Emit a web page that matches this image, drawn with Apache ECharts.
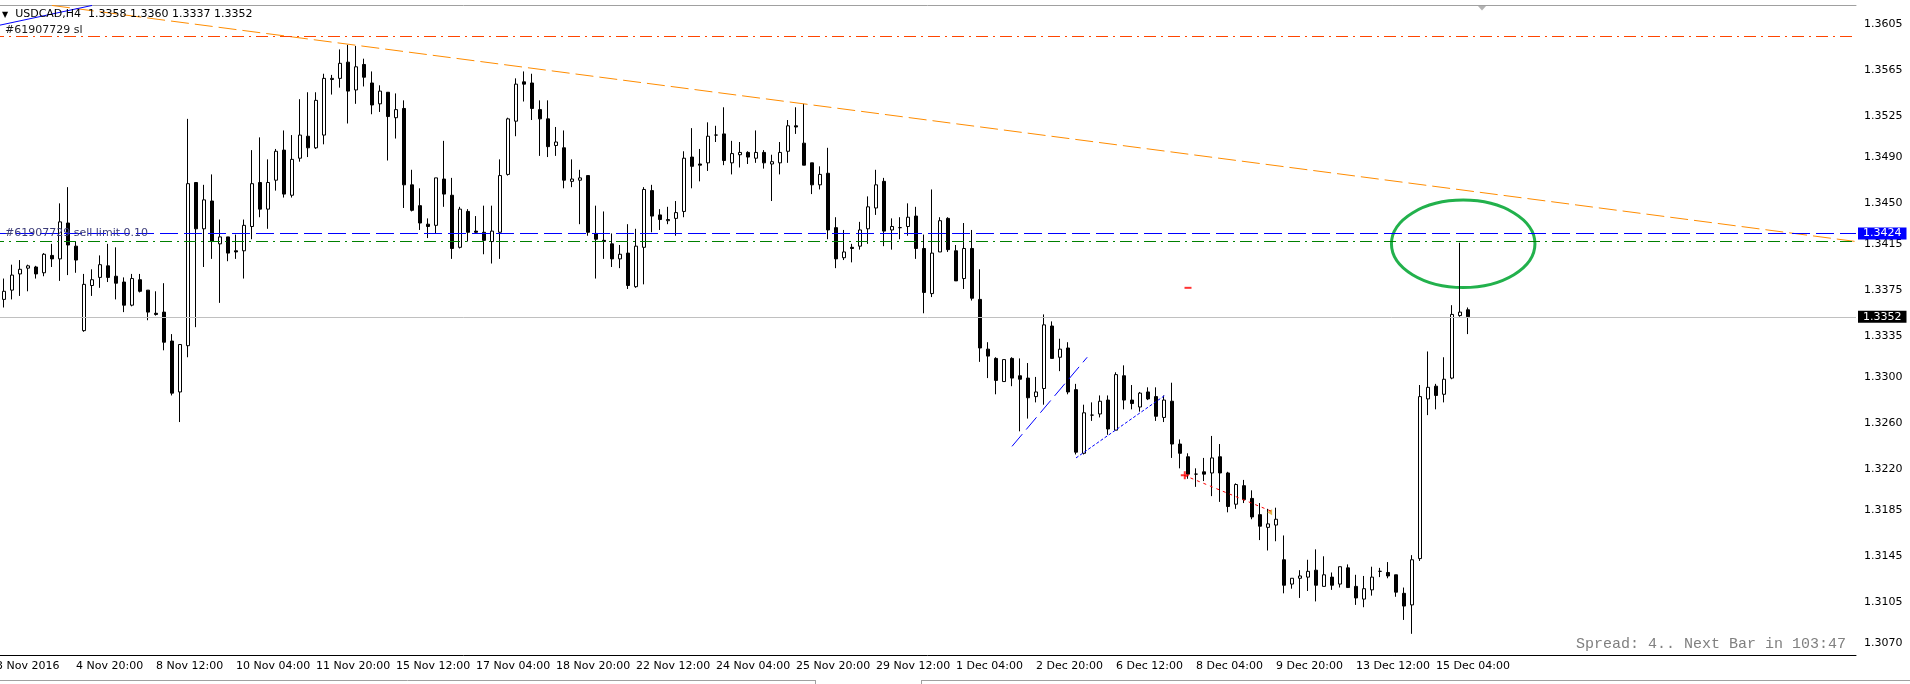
<!DOCTYPE html>
<html>
<head>
<meta charset="utf-8">
<title>USDCAD,H4</title>
<script src="https://cdn.jsdelivr.net/npm/echarts@6/dist/echarts.min.js"></script>
<style>
  html, body { margin: 0; padding: 0; background: #fff; }
  #chart { width: 1910px; height: 684px; }
</style>
</head>
<body>
<div id="chart"></div>
<script>
// USDCAD H4 in MT4 look: white/black candles, order lines, trend lines and a hand-drawn ellipse.
const FONT = 'DejaVu Sans';
const SYMBOL = 'USDCAD,H4';

// x axis: one slot per bar, slot 0 is the hidden bar cut by the left edge
const SLOTS = 233;
const LABEL_STEP = 10;
const X_LABELS = ['3 Nov 2016', '4 Nov 20:00', '8 Nov 12:00', '10 Nov 04:00', '11 Nov 20:00',
  '15 Nov 12:00', '17 Nov 04:00', '18 Nov 20:00', '22 Nov 12:00', '24 Nov 04:00', '25 Nov 20:00',
  '29 Nov 12:00', '1 Dec 04:00', '2 Dec 20:00', '6 Dec 12:00', '8 Dec 04:00', '9 Dec 20:00',
  '13 Dec 12:00', '15 Dec 04:00'];

// price scale ticks as MT4 prints them
const Y_TICKS = [1.3605, 1.3565, 1.3525, 1.3490, 1.3450, 1.3415, 1.3375, 1.3335, 1.3300,
  1.3260, 1.3220, 1.3185, 1.3145, 1.3105, 1.3070];
const Y_MIN = 1.30597;
const Y_MAX = 1.36214;

const OPEN = [
  1.3367,1.3375,1.3389,1.3394,1.3395,1.3390,1.3405,1.3402,1.3433,1.3413,
  1.3340,1.3379,1.3386,1.3396,1.3387,1.3382,1.3362,1.3384,1.3375,1.3355,
  1.3356,1.3331,1.3287,1.3327,1.3468,1.3428,1.3452,1.3415,1.3421,1.3409,
  1.3409,1.3430,1.3468,1.3445,1.3470,1.3496,1.3457,1.3489,1.3508,1.3498,
  1.3509,1.3557,1.3558,1.3572,1.3548,1.3570,1.3554,1.3536,1.3546,1.3524,
  1.3532,1.3466,1.3448,1.3432,1.3431,1.3471,1.3457,1.3412,1.3443,1.3426,
  1.3425,1.3417,1.3425,1.3475,1.3521,1.3555,1.3554,1.3531,1.3523,1.3500,
  1.3498,1.3469,1.3470,1.3474,1.3424,1.3418,1.3415,1.3402,1.3407,1.3378,
  1.3412,1.3461,1.3440,1.3435,1.3437,1.3443,1.3490,1.3484,1.3485,1.3509,
  1.3510,1.3485,1.3492,1.3494,1.3489,1.3494,1.3484,1.3485,1.3495,1.3517,
  1.3502,1.3485,1.3466,1.3476,1.3429,1.3403,1.3412,1.3413,1.3428,1.3446,
  1.3469,1.3427,1.3429,1.3430,1.3439,1.3411,1.3372,1.3408,1.3437,1.3409,
  1.3385,1.3411,1.3367,1.3324,1.3316,1.3296,1.3316,1.3301,1.3299,1.3283,
  1.3290,1.3344,1.3317,1.3325,1.3289,1.3234,1.3267,1.3268,1.3280,1.3254,
  1.3301,1.3280,1.3274,1.3287,1.3283,1.3265,1.3279,1.3242,1.3231,1.3216,
  1.3218,1.3217,1.3231,1.3217,1.3190,1.3206,1.3195,1.3181,1.3170,1.3172,
  1.3142,1.3121,1.3126,1.3127,1.3133,1.3119,1.3127,1.3121,1.3135,1.3119,
  1.3108,1.3116,1.3132,1.3131,1.3129,1.3113,1.3103,1.3143,1.3281,1.3292,
  1.3285,1.3299,1.3353,1.3358
];
const HIGH = [
  1.3385,1.3397,1.3401,1.3397,1.3396,1.3407,1.3415,1.3450,1.3464,1.3417,
  1.3389,1.3393,1.3405,1.3415,1.3412,1.3386,1.3389,1.3389,1.3375,1.3374,
  1.3381,1.3337,1.3328,1.3523,1.3468,1.3466,1.3475,1.3436,1.3421,1.3423,
  1.3436,1.3496,1.3507,1.3488,1.3497,1.3513,1.3509,1.3540,1.3546,1.3546,
  1.3562,1.3561,1.3583,1.3587,1.3586,1.3575,1.3564,1.3552,1.3546,1.3545,
  1.3539,1.3479,1.3463,1.3437,1.3472,1.3504,1.3472,1.3447,1.3445,1.3439,
  1.3448,1.3448,1.3488,1.3524,1.3558,1.3564,1.3562,1.3539,1.3539,1.3516,
  1.3513,1.3488,1.3479,1.3474,1.3448,1.3443,1.3424,1.3414,1.3432,1.3428,
  1.3464,1.3466,1.3445,1.3447,1.3452,1.3495,1.3515,1.3497,1.3520,1.3517,
  1.3533,1.3504,1.3503,1.3495,1.3513,1.3496,1.3492,1.3503,1.3522,1.3533,
  1.3536,1.3485,1.3482,1.3498,1.3438,1.3427,1.3415,1.3434,1.3456,1.3479,
  1.3472,1.3437,1.3438,1.3450,1.3447,1.3423,1.3462,1.3438,1.3438,1.3414,
  1.3433,1.3427,1.3393,1.3330,1.3317,1.3315,1.3317,1.3316,1.3312,1.3300,
  1.3354,1.3348,1.3333,1.3330,1.3294,1.3276,1.3278,1.3284,1.3284,1.3304,
  1.3310,1.3293,1.3287,1.3291,1.3291,1.3284,1.3295,1.3246,1.3234,1.3221,
  1.3230,1.3249,1.3242,1.3218,1.3208,1.3211,1.3202,1.3191,1.3186,1.3187,
  1.3163,1.3126,1.3133,1.3142,1.3151,1.3145,1.3131,1.3136,1.3138,1.3129,
  1.3128,1.3136,1.3135,1.3140,1.3129,1.3118,1.3146,1.3293,1.3322,1.3294,
  1.3317,1.3362,1.3416,1.3360
];
const LOW = [
  1.3360,1.3367,1.3370,1.3374,1.3385,1.3387,1.3395,1.3383,1.3388,1.3390,
  1.3339,1.3370,1.3377,1.3382,1.3367,1.3356,1.3361,1.3373,1.3349,1.3353,
  1.3323,1.3284,1.3261,1.3317,1.3343,1.3395,1.3402,1.3364,1.3400,1.3402,
  1.3385,1.3419,1.3438,1.3428,1.3461,1.3455,1.3455,1.3486,1.3490,1.3497,
  1.3501,1.3544,1.3550,1.3519,1.3536,1.3551,1.3527,1.3529,1.3487,1.3506,
  1.3446,1.3443,1.3427,1.3420,1.3424,1.3447,1.3402,1.3411,1.3417,1.3424,
  1.3406,1.3398,1.3402,1.3474,1.3508,1.3538,1.3522,1.3491,1.3490,1.3491,
  1.3463,1.3464,1.3432,1.3422,1.3385,1.3402,1.3395,1.3394,1.3376,1.3377,
  1.3380,1.3425,1.3427,1.3432,1.3422,1.3438,1.3463,1.3469,1.3478,1.3503,
  1.3483,1.3475,1.3481,1.3484,1.3485,1.3480,1.3452,1.3475,1.3485,1.3510,
  1.3483,1.3458,1.3462,1.3419,1.3394,1.3401,1.3399,1.3410,1.3415,1.3440,
  1.3413,1.3410,1.3419,1.3422,1.3402,1.3355,1.3369,1.3408,1.3408,1.3383,
  1.3376,1.3366,1.3313,1.3299,1.3285,1.3296,1.3292,1.3253,1.3264,1.3278,
  1.3276,1.3316,1.3305,1.3285,1.3233,1.3233,1.3262,1.3265,1.3250,1.3254,
  1.3272,1.3272,1.3270,1.3280,1.3262,1.3261,1.3230,1.3221,1.3212,1.3205,
  1.3210,1.3197,1.3192,1.3183,1.3186,1.3191,1.3177,1.3159,1.3150,1.3158,
  1.3113,1.3117,1.3109,1.3115,1.3106,1.3119,1.3116,1.3118,1.3118,1.3103,
  1.3101,1.3111,1.3127,1.3126,1.3110,1.3090,1.3078,1.3141,1.3267,1.3272,
  1.3278,1.3298,1.3352,1.3337
];
const CLOSE = [
  1.3374,1.3388,1.3393,1.3396,1.3389,1.3406,1.3402,1.3434,1.3414,1.3401,
  1.3380,1.3384,1.3397,1.3386,1.3381,1.3362,1.3385,1.3374,1.3356,1.3354,
  1.3330,1.3286,1.3328,1.3467,1.3428,1.3453,1.3417,1.3421,1.3407,1.3408,
  1.3431,1.3467,1.3445,1.3468,1.3495,1.3458,1.3488,1.3509,1.3498,1.3539,
  1.3558,1.3558,1.3571,1.3547,1.3568,1.3559,1.3535,1.3547,1.3525,1.3531,
  1.3466,1.3444,1.3433,1.3430,1.3472,1.3458,1.3411,1.3445,1.3425,1.3425,
  1.3418,1.3426,1.3474,1.3523,1.3553,1.3553,1.3532,1.3523,1.3499,1.3503,
  1.3470,1.3471,1.3472,1.3425,1.3419,1.3417,1.3402,1.3406,1.3379,1.3413,
  1.3462,1.3439,1.3436,1.3436,1.3442,1.3489,1.3482,1.3483,1.3508,1.3509,
  1.3487,1.3493,1.3494,1.3490,1.3494,1.3485,1.3486,1.3494,1.3517,1.3516,
  1.3483,1.3466,1.3475,1.3427,1.3402,1.3408,1.3411,1.3427,1.3447,1.3466,
  1.3426,1.3430,1.3429,1.3438,1.3411,1.3373,1.3407,1.3435,1.3410,1.3383,
  1.3411,1.3368,1.3325,1.3318,1.3297,1.3315,1.3299,1.3298,1.3282,1.3287,
  1.3345,1.3316,1.3324,1.3287,1.3235,1.3269,1.3267,1.3279,1.3255,1.3302,
  1.3280,1.3277,1.3286,1.3281,1.3266,1.3280,1.3242,1.3234,1.3216,1.3216,
  1.3216,1.3230,1.3217,1.3188,1.3207,1.3194,1.3179,1.3171,1.3173,1.3177,
  1.3120,1.3126,1.3128,1.3132,1.3120,1.3129,1.3120,1.3136,1.3118,1.3109,
  1.3117,1.3127,1.3132,1.3128,1.3114,1.3102,1.3142,1.3283,1.3291,1.3284,
  1.3298,1.3354,1.3356,1.3352
];
const FIRST_SLOT = 1; // bar k sits in slot k + 1

// order lines
const ORDER_TICKET = '#61907729';
const ORDER_PRICE = 1.3424;
const SL_PRICE = 1.3594;
const LEVEL_PRICE = 1.34175;

// drawings, x in slot units
const TREND_ORANGE = [[7, 1.3621], [232.5, 1.3417]];
const TREND_BLUE_TOP = [[0.5, 1.3604], [12, 1.3621]];
const TREND_BLUE_1 = [[127.0, 1.3240], [136.4, 1.3317]];
const TREND_BLUE_2 = [[135.0, 1.3230], [146.1, 1.3284]];
const TRADE_LINE = [[148.5, 1.3215], [159.4, 1.3184]];
const TRADE_OPEN = [148.6, 1.3215];
const TRADE_CLOSE = [159.2, 1.3183];
const RED_MARK = [149.0, 1.3377];
const ELLIPSE = [183.4, 1.3415, 8.97, 0.00378]; // centre x, centre price, x radius, price radius
const SHIFT_MARK = [185.75, Y_MAX];

const last = OPEN.length - 1;
const BID = CLOSE[last];
const header = `${SYMBOL}  ${OPEN[last].toFixed(4)} ${HIGH[last].toFixed(4)} ${LOW[last].toFixed(4)} ${CLOSE[last].toFixed(4)}`;

const cats = Array.from({ length: SLOTS }, (_, i) => String(i));
const candles = OPEN.map((o, k) => [k + FIRST_SLOT, o, CLOSE[k], LOW[k], HIGH[k]]);
const labelled = (i) => i % LABEL_STEP === 0 && i / LABEL_STEP < X_LABELS.length;

const priceBox = (bg) => ({
  position: 'end', distance: [2, 0], color: '#fff', backgroundColor: bg,
  padding: [1, 5, 0, 5], fontFamily: FONT, fontSize: 11,
  formatter: (p) => Number(p.value).toFixed(4)
});

const trend = (data, color, type) => ({
  type: 'line', xAxisIndex: 1, yAxisIndex: 0, data,
  symbol: 'none', silent: true, clip: true,
  lineStyle: { color, width: 1, type }
});

// window chrome below the chart: tab strip edge with the active tab open
const tabEdge = { stroke: '#a0a0a0', lineWidth: 1 };

const chart = echarts.init(document.getElementById('chart'));
chart.setOption({
  animation: false,
  backgroundColor: '#ffffff',
  title: [
    {
      text: '{tri|▼}  ' + header,
      left: 2, top: 9, padding: 0,
      textStyle: { fontFamily: FONT, fontSize: 11, fontWeight: 'normal', color: '#000',
        rich: { tri: { fontSize: 8, color: '#000' } } }
    },
    {
      text: 'Spread: 4.. Next Bar in 103:47',
      right: 64, top: 637, padding: 0,
      textStyle: { fontFamily: 'Liberation Mono', fontSize: 15, fontWeight: 'normal', color: '#808080' }
    }
  ],
  graphic: [
    { type: 'line', silent: true, shape: { x1: 0, y1: 680.5, x2: 815, y2: 680.5 }, style: tabEdge },
    { type: 'line', silent: true, shape: { x1: 922, y1: 680.5, x2: 1910, y2: 680.5 }, style: tabEdge },
    { type: 'line', silent: true, shape: { x1: 815.5, y1: 680, x2: 815.5, y2: 684 }, style: tabEdge },
    { type: 'line', silent: true, shape: { x1: 921.5, y1: 680, x2: 921.5, y2: 684 }, style: tabEdge }
  ],
  grid: { left: -8, right: 54, top: 5, bottom: 29, containLabel: false, outerBoundsMode: 'none' },
  xAxis: [
    {
      type: 'category',
      data: cats,
      boundaryGap: true,
      axisLine: { lineStyle: { color: '#000', width: 1 } },
      axisTick: { alignWithLabel: true, interval: (i) => labelled(i), length: 4, lineStyle: { color: '#000' } },
      axisLabel: {
        interval: (i) => labelled(i),
        formatter: (v, i) => (labelled(i) ? X_LABELS[i / LABEL_STEP] : ''),
        align: 'left', margin: 6,
        fontFamily: FONT, fontSize: 11, color: '#000'
      },
      splitLine: { show: false }
    },
    {
      type: 'value', position: 'top',
      min: -0.5, max: SLOTS - 0.5,
      axisLine: { show: true, onZero: false, lineStyle: { color: '#a0a0a0' } },
      axisTick: { show: false }, axisLabel: { show: false }, splitLine: { show: false }
    }
  ],
  yAxis: {
    type: 'value', position: 'right',
    min: Y_MIN, max: Y_MAX,
    axisLine: { show: true, lineStyle: { color: '#000' } },
    axisTick: { show: true, customValues: Y_TICKS, length: 4, lineStyle: { color: '#000' } },
    axisLabel: {
      customValues: Y_TICKS, margin: 8,
      formatter: (v) => v.toFixed(4),
      fontFamily: FONT, fontSize: 11, color: '#000'
    },
    splitLine: { show: false }
  },
  series: [
    {
      type: 'candlestick',
      xAxisIndex: 0, yAxisIndex: 0,
      data: candles,
      encode: { x: 0, y: [1, 2, 3, 4] },
      barWidth: 4,
      itemStyle: { color: '#fff', color0: '#000', borderColor: '#000', borderColor0: '#000',
        borderColorDoji: '#000', borderWidth: 1 },
      emphasis: { disabled: true }
    },
    {
      // order / level lines
      type: 'line', xAxisIndex: 1, yAxisIndex: 0, data: [], silent: true,
      markLine: {
        symbol: ['none', 'none'], silent: true, animation: false, precision: 6,
        label: { fontFamily: FONT, fontSize: 11 },
        data: [
          { yAxis: SL_PRICE, lineStyle: { color: '#ff4500', width: 1, type: [12, 5, 2, 5] },
            label: { position: 'insideStartTop', distance: [13, 1], formatter: ORDER_TICKET + ' sl', color: '#1a1a1a' } },
          { yAxis: LEVEL_PRICE, lineStyle: { color: '#008000', width: 1, type: [12, 5, 2, 5] },
            label: { show: false } },
          { yAxis: ORDER_PRICE, lineStyle: { color: 'rgba(0,0,0,0)', width: 1 },
            label: { position: 'insideStart', distance: [13, 0], formatter: ORDER_TICKET + ' sell limit 0.10', color: '#3c3c78' } },
          { yAxis: ORDER_PRICE, lineStyle: { color: '#0000ff', width: 1, type: [18, 6] },
            label: priceBox('#0000ff') },
          { yAxis: BID, lineStyle: { color: '#c0c0c0', width: 1, type: 'solid' },
            label: priceBox('#000') }
        ]
      }
    },
    trend(TREND_ORANGE, '#ff8c00', [18, 6]),
    trend(TREND_BLUE_TOP, '#0000ff', 'solid'),
    trend(TREND_BLUE_1, '#0000ff', [16, 6]),
    trend(TREND_BLUE_2, '#0000ff', [3, 2]),
    trend(TRADE_LINE, '#ff0000', [3, 4]),
    {
      type: 'scatter', xAxisIndex: 1, yAxisIndex: 0, silent: true,
      data: [
        { value: TRADE_OPEN, symbol: 'path://M3,0h2v3h3v2h-3v3h-2v-3h-3v-2h3z', symbolSize: 8, itemStyle: { color: '#ff0000' } },
        { value: TRADE_CLOSE, symbol: 'triangle', symbolRotate: 90, symbolSize: [6, 5], itemStyle: { color: '#daa520' } },
        { value: RED_MARK, symbol: 'rect', symbolSize: [7, 2], itemStyle: { color: '#ff0000' } },
        { value: SHIFT_MARK, symbol: 'triangle', symbolRotate: 180, symbolSize: [9, 5], symbolOffset: [0, 3], itemStyle: { color: '#a0a0a0' } }
      ],
      clip: false
    },
    {
      type: 'custom', xAxisIndex: 1, yAxisIndex: 0, silent: true,
      data: [ELLIPSE],
      renderItem: (params, api) => {
        const c = api.coord([api.value(0), api.value(1)]);
        const s = api.size([api.value(2), api.value(3)]);
        return {
          type: 'ellipse',
          shape: { cx: c[0], cy: c[1], rx: s[0], ry: s[1] },
          style: { fill: 'none', stroke: '#22b14c', lineWidth: 3 }
        };
      }
    }
  ]
});
</script>
</body>
</html>
